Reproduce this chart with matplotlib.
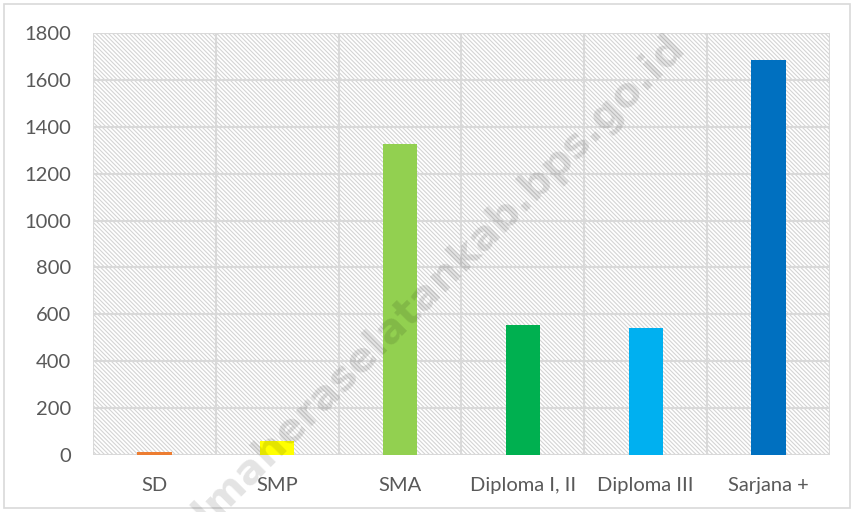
import matplotlib.pyplot as plt
from matplotlib.patches import Rectangle
from matplotlib.transforms import Bbox
import numpy as np

categories = ['SD', 'SMP', 'SMA', 'Diploma I, II', 'Diploma III', 'Sarjana +']
values = [12, 58, 1326, 554, 540, 1684]
colors = ['#ED7D31', '#FFFF00', '#92D050', '#00B050', '#00B0F0', '#0070C0']
y_ticks = [0, 200, 400, 600, 800, 1000, 1200, 1400, 1600, 1800]

plt.rcParams['font.family'] = ['Lato', 'DejaVu Sans']
plt.rcParams['hatch.linewidth'] = 0.8

fig = plt.figure(figsize=(8.54, 5.12), dpi=100)
ax = fig.add_axes([93 / 854, 1 - 455 / 512, (830 - 93) / 854, (455 - 33) / 512])

# hatched plot-area background
ax.add_patch(Rectangle((0, 0), 1, 1, transform=ax.transAxes, facecolor='white',
                       edgecolor='#d4d4d4', hatch='\\' * 8, linewidth=0, zorder=0))

x = np.arange(len(categories))
ax.bar(x, values, width=0.28, color=colors, zorder=3)

ax.set_xlim(-0.5, len(categories) - 0.5)
ax.set_ylim(0, 1800)
ax.set_yticks(y_ticks)
ax.set_xticks(x)
ax.set_xticklabels(categories)
ax.set_xticks(np.arange(-0.5, len(categories), 1), minor=True)

ax.grid(axis='y', color='#d9d9d9', linewidth=1.5, zorder=1)
ax.grid(axis='x', which='minor', color='#d9d9d9', linewidth=1.5, zorder=1)
ax.grid(axis='x', which='major', visible=False)
ax.set_axisbelow(True)
for s in ax.spines.values():
    s.set_visible(False)
ax.tick_params(axis='both', which='both', length=0, labelsize=14.5,
               labelcolor='#595959', pad=16)

# watermark (cut off above the plot area, as in the source image)
wm = fig.text(420 / 854, 1 - 300 / 512, 'halmaheraselatankab.bps.go.id', rotation=45,
              ha='center', va='center', fontsize=29.5, fontweight='bold',
              color='black', alpha=0.11, family='DejaVu Sans', zorder=10)
wm.set_clip_box(Bbox.from_extents(0, 0, 854, 512 - 33))
wm.set_clip_on(True)

# outer chart border
fig.add_artist(Rectangle((4 / 854, 4 / 512), 846 / 854, 504 / 512, transform=fig.transFigure,
                         fill=False, edgecolor='#d9d9d9', linewidth=1.2))

fig.savefig('out.png', dpi=100, facecolor='white')
